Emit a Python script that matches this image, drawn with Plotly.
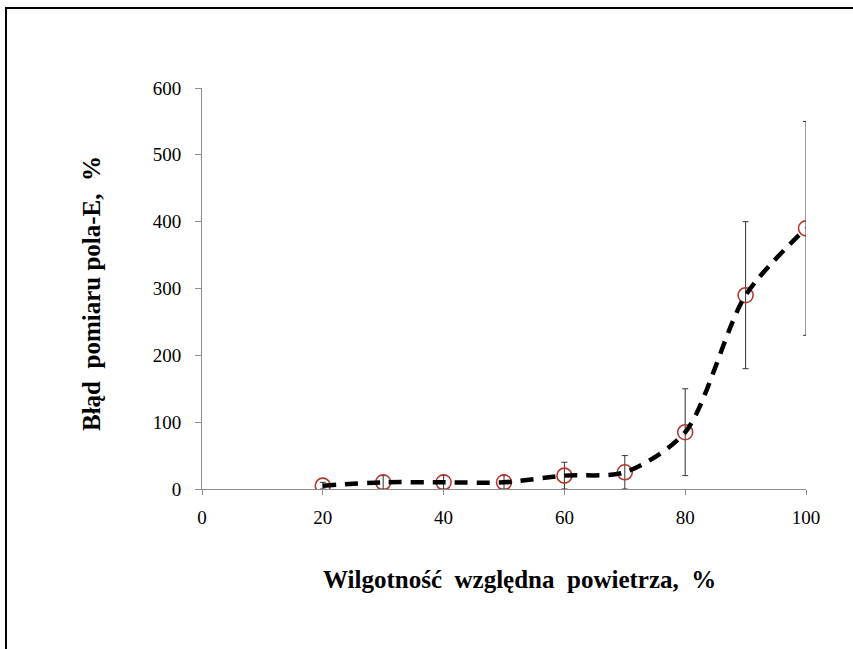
import plotly.graph_objects as go

humidity = [20, 30, 40, 50, 60, 70, 80, 90, 100]
error_pct = [5, 10, 10, 10, 20, 25, 85, 290, 390]
error_bar = [5, 10, 10, 10, 20, 25, 65, 110, 160]

x_ticks = [0, 20, 40, 60, 80, 100]
y_ticks = [0, 100, 200, 300, 400, 500, 600]

x_title = "<b>Wilgotność  względna  powietrza,  %</b>"
y_title = "<b>Błąd  pomiaru pola-E,  %</b>"

W, H = 853, 649
L, R, T, B = 202, 47, 88, 160
pw, ph = W - L - R, H - T - B

def px2paper(px, py):
    return (px - L) / pw, (H - B - py) / ph

fig = go.Figure()

fig.add_trace(go.Scatter(
    x=humidity, y=error_pct, mode="markers",
    marker=dict(symbol="circle-open", size=15, color="#B23A30", line=dict(width=1.6)),
    error_y=dict(type="data", array=error_bar, visible=True, color="#333333",
                 thickness=1, width=3),
    showlegend=False,
))
fig.add_trace(go.Scatter(
    x=humidity, y=error_pct, mode="lines",
    line=dict(color="black", width=4.5, dash="13px,9px", shape="spline", smoothing=0.8),
    showlegend=False,
))

x0, y0 = px2paper(6, 8)
x1, y1 = px2paper(853, 652)
fig.add_shape(type="path", xref="paper", yref="paper",
              path=f"M {x0} {y1} L {x0} {y0} L {x1} {y0}",
              line=dict(color="black", width=2))

font_serif = "Liberation Serif, Times New Roman, serif"

ax, ay = px2paper(519, 579)
fig.add_annotation(text=x_title, xref="paper", yref="paper", x=ax, y=ay,
                   xanchor="center", yanchor="middle", showarrow=False,
                   font=dict(size=25, family=font_serif, color="black"))
bx, by = px2paper(91, 294)
fig.add_annotation(text=y_title, xref="paper", yref="paper", x=bx, y=by,
                   xanchor="center", yanchor="middle", showarrow=False, textangle=-90,
                   font=dict(size=25, family=font_serif, color="black"))

fig.update_layout(
    width=W, height=H,
    margin=dict(l=L, r=R, t=T, b=B),
    paper_bgcolor="white", plot_bgcolor="white",
    font=dict(family=font_serif, color="black", size=19),
    xaxis=dict(range=[0, 100], tickvals=x_ticks, showgrid=False, zeroline=False,
               showline=True, linecolor="#8c8c8c", linewidth=1,
               ticks="outside", ticklen=5, tickcolor="#8c8c8c",
               tickfont=dict(size=19), ticklabelstandoff=6),
    yaxis=dict(range=[0, 600], tickvals=y_ticks, showgrid=False, zeroline=False,
               showline=True, linecolor="#8c8c8c", linewidth=1,
               ticks="outside", ticklen=6, tickcolor="#8c8c8c",
               tickfont=dict(size=19), ticklabelstandoff=10),
)

fig.write_html("out.html", config={"displayModeBar": False},
               post_script="document.body.style.margin='0';document.body.style.overflow='hidden';")
